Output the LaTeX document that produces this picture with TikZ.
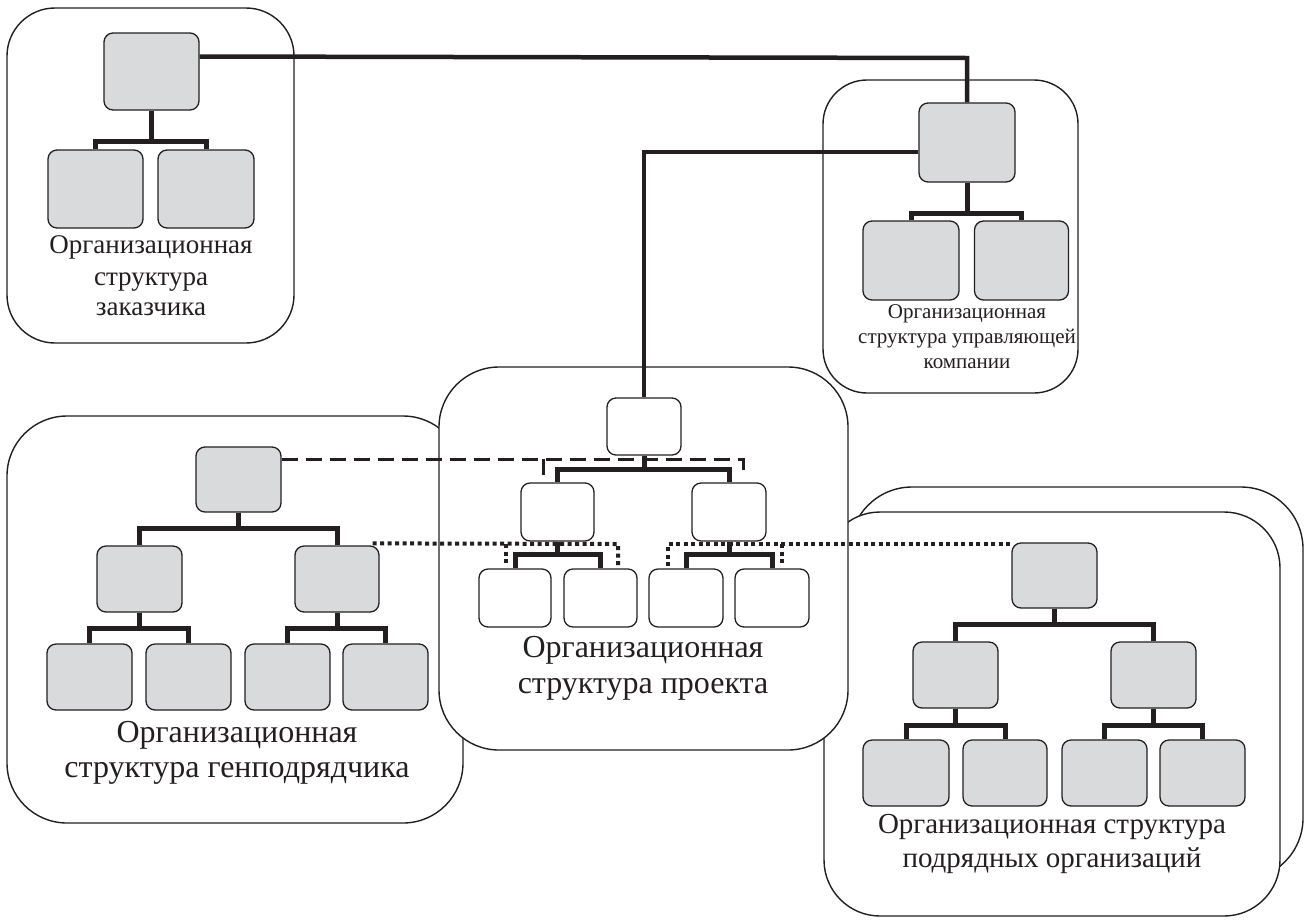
\documentclass[tikz,border=0pt]{standalone}
\usepackage{fontspec}
\setmainfont{Liberation Serif}
\usetikzlibrary{calc}
\definecolor{boxgray}{RGB}{217,218,220}
\definecolor{ink}{RGB}{35,31,32}

% two-child fork: parent, left child, right child, drop to the bus
\newcommand\orgfork[4]{%
  \draw[tree] (#1.south) -- ++(0,#4) -| (#2.north);
  \draw[tree] (#1.south) ++(0,#4) -| (#3.north);}

\begin{document}
\begin{tikzpicture}[x=1pt,y=-1pt,
  panel/.style={draw=ink, line width=1.4pt, fill=white},
  orgbox/.style={draw=ink, line width=1.3pt, rounded corners=9pt, inner sep=0pt},
  filled/.style={orgbox, fill=boxgray},
  hollow/.style={orgbox, fill=white},
  sz/.style 2 args={minimum width=#1pt, minimum height=#2pt},
  tree/.style={draw=ink, line width=5pt},
  link/.style={draw=ink, line width=4.5pt},
  dashlink/.style={draw=ink, line width=3pt, dash pattern=on 16pt off 8pt},
  dotlink/.style={draw=ink, line width=4pt, dash pattern=on 4pt off 3.5pt},
  label/.style={anchor=base, inner sep=0pt, text=ink}
]
\useasboundingbox (0,0) rectangle (1308,919);

% ---------- panels (back to front) ----------
\draw[panel, rounded corners=48pt] (7,8) rectangle (294,343);
\draw[panel, rounded corners=44pt] (823,80) rectangle (1078,393);
\draw[panel, rounded corners=60pt] (7,416) rectangle (463,823);
\draw[panel, rounded corners=62pt] (850,487) rectangle (1303,880);
\draw[panel, rounded corners=56pt] (824,512) rectangle (1280,916);
\draw[panel, rounded corners=60pt] (439,367) rectangle (848,750);

% ---------- customer ----------
\node[filled, sz={95}{77}] (c0) at (151.5,71.5) {};
\node[filled, sz={95}{78}] (c1) at (95.5,189) {};
\node[filled, sz={96}{78}] (c2) at (206,189) {};
\orgfork{c0}{c1}{c2}{31}
\begin{scope}[every node/.style={label, font=\fontsize{27}{27}\selectfont}]
  \node (ct1) at (151,253) {Организационная};
  \node (ct2) at (151,285) {структура};
  \node (ct3) at (151,315) {заказчика};
\end{scope}

% ---------- management company ----------
\node[filled, sz={96}{79}] (m0) at (967,142.5) {};
\node[filled, sz={96}{79}] (m1) at (911,260.5) {};
\node[filled, sz={94}{79}] (m2) at (1021.5,260.5) {};
\orgfork{m0}{m1}{m2}{31}
\begin{scope}[every node/.style={label, font=\fontsize{21}{21}\selectfont}]
  \node (mt1) at (967,318) {Организационная};
  \node (mt2) at (967,343) {структура управляющей};
  \node (mt3) at (967,368) {компании};
\end{scope}

% ---------- project ----------
\node[hollow, sz={74}{57}] (p0) at (644,426.5) {};
\node[hollow, sz={73}{58}] (p1) at (557.5,512) {};
\node[hollow, sz={74}{58}] (p2) at (729,512) {};
\node[hollow, sz={72}{58}] (p3) at (515,598) {};
\node[hollow, sz={73}{58}] (p4) at (600.5,598) {};
\node[hollow, sz={74}{58}] (p5) at (686,598) {};
\node[hollow, sz={74}{58}] (p6) at (772,598) {};
\orgfork{p0}{p1}{p2}{14}
\orgfork{p1}{p3}{p4}{13}
\orgfork{p2}{p5}{p6}{13}
\begin{scope}[every node/.style={label, font=\fontsize{32}{32}\selectfont}]
  \node (pt1) at (643,657) {Организационная};
  \node (pt2) at (643,693) {структура проекта};
\end{scope}

% ---------- general contractor ----------
\node[filled, sz={85}{65}] (g0) at (238.5,479.5) {};
\node[filled, sz={85}{66}] (g1) at (139.5,579) {};
\node[filled, sz={84}{66}] (g2) at (337,579) {};
\node[filled, sz={85}{66}] (g3) at (89.5,677) {};
\node[filled, sz={85}{66}] (g4) at (188.5,677) {};
\node[filled, sz={85}{66}] (g5) at (287.5,677) {};
\node[filled, sz={85}{66}] (g6) at (385.5,677) {};
\orgfork{g0}{g1}{g2}{16}
\orgfork{g1}{g3}{g4}{16}
\orgfork{g2}{g5}{g6}{16}
\begin{scope}[every node/.style={label, font=\fontsize{32}{32}\selectfont}]
  \node (gt1) at (237,742) {Организационная};
  \node (gt2) at (237,777) {структура генподрядчика};
\end{scope}

% ---------- subcontractors ----------
\node[filled, sz={85}{65}] (s0) at (1054.5,575.5) {};
\node[filled, sz={85}{66}] (s1) at (955.5,675) {};
\node[filled, sz={85}{66}] (s2) at (1153.5,675) {};
\node[filled, sz={86}{66}] (s3) at (906,773) {};
\node[filled, sz={84}{66}] (s4) at (1005,773) {};
\node[filled, sz={85}{66}] (s5) at (1104.5,773) {};
\node[filled, sz={85}{66}] (s6) at (1202.5,773) {};
\orgfork{s0}{s1}{s2}{16}
\orgfork{s1}{s3}{s4}{17}
\orgfork{s2}{s5}{s6}{17}
\begin{scope}[every node/.style={label, font=\fontsize{29}{29}\selectfont}]
  \node (st1) at (1052,833) {Организационная структура};
  \node (st2) at (1052,867) {подрядных организаций};
\end{scope}

% ---------- links between structures ----------
\draw[link] (c0.east) ++(0,-15) -- (m0.north |- 0,58) -- (m0.north);
\draw[link] (p0.north) -- (p0.north |- 0,152) -- (m0.west |- 0,152);

\coordinate (dA) at (543,480);
\coordinate (dB) at (743,470);
\draw[dashlink] (g0.east |- 0,459) -- (dB |- 0,459) -- (dB);
\draw[dashlink] (dA |- 0,459) -- (dA);

\coordinate (oA) at (506,565);
\coordinate (oB) at (618,565);
\coordinate (oC) at (668,566);
\coordinate (oD) at (782,565);
\draw[dotlink] (g2.north east) ++(-7,-2) -- (oB |- 0,544) -- (oB);
\draw[dotlink] (oA |- 0,544) -- (oA);
\draw[dotlink] (oC) -- (oC |- 0,544) -- (s0.north west |- 0,544);
\draw[dotlink] (oD |- 0,544) -- (oD);
\end{tikzpicture}
\end{document}
